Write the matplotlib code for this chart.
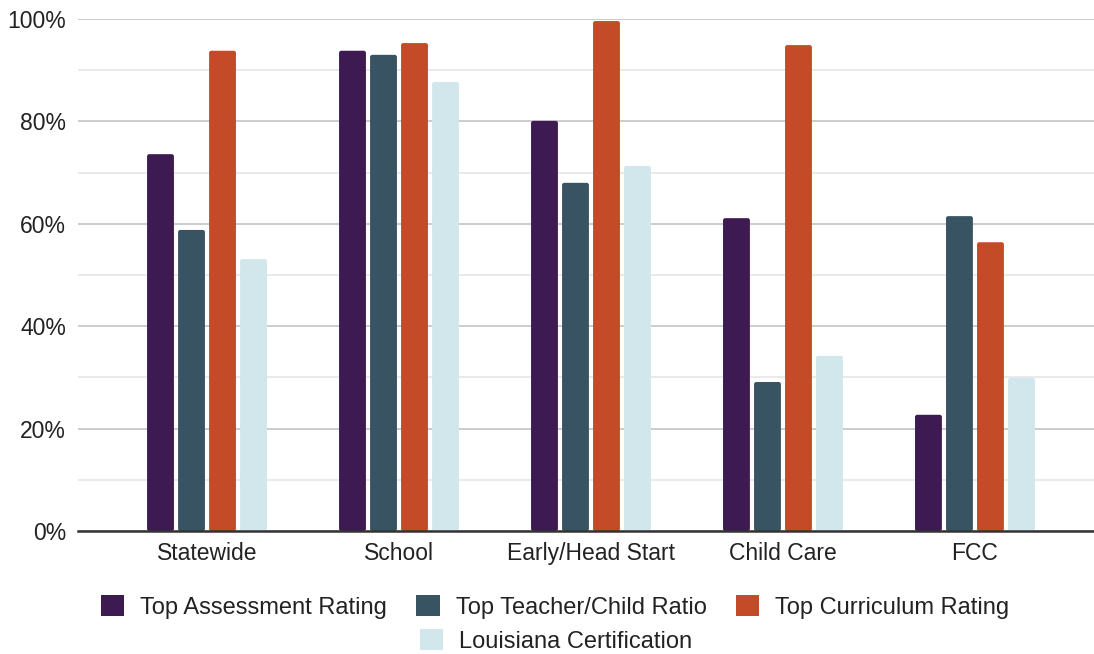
import matplotlib
matplotlib.use("Agg")
import matplotlib.pyplot as plt
from matplotlib.patches import FancyBboxPatch, Patch
from matplotlib.ticker import MultipleLocator, FuncFormatter
import numpy as np

categories = ["Statewide", "School", "Early/Head Start", "Child Care", "FCC"]
series_names = ["Top Assessment Rating", "Top Teacher/Child Ratio",
                "Top Curriculum Rating", "Louisiana Certification"]
assessment = [73.6, 93.8, 80.1, 61.1, 22.7]
teacher_ratio = [58.8, 93.0, 68.0, 29.1, 61.5]
curriculum = [93.8, 95.3, 99.6, 94.9, 56.4]
certification = [53.1, 87.7, 71.3, 34.2, 29.9]
series = [assessment, teacher_ratio, curriculum, certification]
colors = ["#3D1A51", "#385463", "#C44B28", "#D1E7EC"]

plt.rcParams["font.family"] = ["Liberation Sans", "DejaVu Sans"]

fig = plt.figure(figsize=(10.94, 6.54), dpi=100)
ax = fig.add_axes([78 / 1094, 123 / 654, 1016 / 1094, 512 / 654])

x = np.arange(len(categories))
step = 0.1615
width = 0.14
offsets = (np.arange(4) - 1.5) * step

xlim = (-0.672, 4.62)
ax.set_xlim(*xlim)
ax.set_ylim(0, 100)

# pixel scale for rounded corners
px_x = (xlim[1] - xlim[0]) / 1016
px_y = 100 / 512
aspect = px_y / px_x

for vals, col, off in zip(series, colors, offsets):
    for xi, v in zip(x, vals):
        p = FancyBboxPatch((xi + off - width / 2, 0), width, v,
                           boxstyle="round,pad=0,rounding_size=%f" % (2.2 * px_x),
                           mutation_aspect=aspect,
                           facecolor=col, edgecolor="none", zorder=3)
        ax.add_patch(p)

ax.yaxis.set_major_locator(MultipleLocator(20))
ax.yaxis.set_minor_locator(MultipleLocator(10))
ax.yaxis.set_major_formatter(FuncFormatter(lambda v, _: f"{v:.0f}%"))
ax.grid(axis="y", which="major", color="#cccccc", linewidth=1.4, zorder=0)
ax.grid(axis="y", which="minor", color="#e6e6e6", linewidth=1.2, zorder=0)
ax.set_axisbelow(True)

for s in ["top", "right", "left"]:
    ax.spines[s].set_visible(False)
ax.spines["bottom"].set_color("#333333")
ax.spines["bottom"].set_linewidth(1.8)
ax.spines["bottom"].set_zorder(5)

ax.set_xticks(x)
ax.set_xticklabels(categories)
ax.tick_params(axis="both", which="both", length=0, labelsize=16.5, colors="#222222")
ax.tick_params(axis="y", pad=8.5)
ax.tick_params(axis="x", pad=8)

handles = [Patch(facecolor=c, edgecolor="none") for c in colors]
leg_kw = dict(frameon=False, fontsize=17, handlelength=1.0, handleheight=1.0,
              handletextpad=0.68)
leg1 = fig.legend(handles[:3], series_names[:3], loc="center", ncol=3,
                  bbox_to_anchor=(555 / 1094, 1 - 607 / 654),
                  columnspacing=1.23, **leg_kw)
leg2 = fig.legend(handles[3:], series_names[3:], loc="center", ncol=1,
                  bbox_to_anchor=(556 / 1094, 1 - 641 / 654), **leg_kw)
for t in leg1.get_texts() + leg2.get_texts():
    t.set_color("#222222")

fig.savefig("out.png", dpi=100)
